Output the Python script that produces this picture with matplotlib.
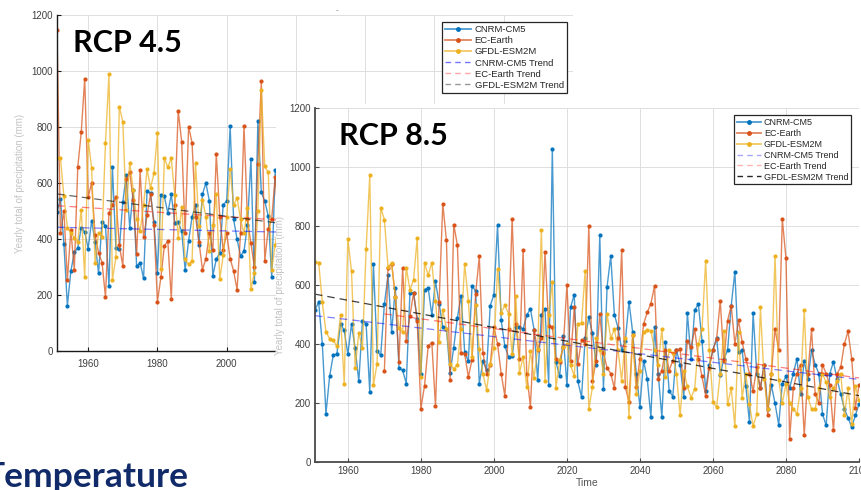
import numpy as np
import matplotlib
matplotlib.use('Agg')
import matplotlib.pyplot as plt
from matplotlib.lines import Line2D
from matplotlib.colors import to_rgba

plt.rcParams['font.family'] = ['Liberation Sans', 'DejaVu Sans']

# ---- data: RCP 4.5 (only 1951-2017 is visible, the rest sits under the 8.5 window)
years45 = np.arange(1951, 2018)
cnrm45 = [496, 543, 381, 162, 285, 352, 369, 440, 425, 366,
          465, 389, 278, 460, 448, 231, 657, 369, 363, 532,
          629, 440, 576, 302, 316, 259, 571, 564, 460, 280,
          558, 552, 493, 559, 458, 460, 428, 290, 393, 479,
          520, 380, 560, 600, 535, 269, 328, 351, 523, 535,
          803, 470, 399, 340, 357, 450, 686, 245, 822, 567,
          535, 482, 263, 647, 500, 420, 450]
ec45 = [1145, 422, 500, 254, 432, 290, 657, 781, 972, 550,
        600, 413, 351, 316, 193, 493, 523, 549, 377, 304,
        614, 638, 540, 345, 645, 407, 484, 560, 450, 176,
        263, 375, 393, 186, 520, 858, 748, 420, 801, 744,
        480, 390, 290, 330, 420, 360, 704, 480, 360, 420,
        330, 286, 219, 420, 804, 470, 384, 300, 668, 964,
        322, 437, 470, 623, 450, 400, 420]
gfdl45 = [688, 688, 552, 440, 422, 405, 390, 505, 263, 754,
          655, 316, 422, 408, 744, 988, 254, 334, 872, 819,
          503, 673, 576, 470, 428, 520, 649, 582, 635, 777,
          292, 688, 657, 688, 558, 405, 515, 328, 310, 322,
          673, 446, 540, 480, 357, 450, 560, 257, 342, 480,
          649, 520, 547, 470, 420, 511, 221, 280, 500, 933,
          659, 638, 290, 380, 450, 400, 420]
trend_years45 = [1951, 2100]
cnrm45_trend = [442, 402]
ec45_trend = [519, 400]
gfdl45_trend = [561, 318]

# ---- data: RCP 8.5
years85 = np.arange(1951, 2101)
years85_ec = np.arange(1970, 2101)
cnrm85 = [516, 542, 401, 164, 290, 362, 367, 469, 446, 365,
          467, 386, 273, 478, 469, 237, 672, 376, 362, 534,
          633, 441, 591, 319, 311, 266, 573, 573, 486, 297,
          584, 591, 497, 612, 537, 458, 452, 302, 388, 489,
          563, 373, 342, 596, 580, 266, 341, 313, 530, 567,
          802, 480, 393, 356, 358, 458, 458, 450, 498, 519,
          449, 277, 497, 520, 262, 1062, 339, 290, 426, 260,
          525, 567, 273, 220, 420, 490, 436, 330, 769, 248,
          594, 698, 500, 455, 380, 410, 544, 440, 300, 188,
          344, 282, 152, 456, 300, 152, 406, 242, 222, 380,
          330, 220, 504, 349, 515, 535, 411, 242, 330, 380,
          420, 296, 350, 378, 530, 645, 372, 380, 256, 135,
          505, 300, 250, 330, 180, 260, 199, 126, 265, 290,
          250, 300, 350, 230, 344, 280, 378, 330, 300, 163,
          124, 299, 340, 280, 230, 180, 150, 118, 158, 197]
ec85 = [308, 659, 672, 560, 339, 659, 410, 495, 573, 478,
        181, 259, 393, 405, 189, 542, 876, 751, 277, 805,
        736, 371, 367, 288, 347, 571, 697, 370, 300, 330,
        458, 401, 299, 224, 450, 825, 469, 350, 717, 300,
        187, 446, 380, 420, 712, 460, 458, 350, 340, 390,
        600, 344, 524, 333, 414, 400, 801, 276, 344, 501,
        370, 319, 300, 250, 420, 718, 254, 203, 430, 254,
        350, 468, 507, 537, 597, 282, 310, 380, 310, 344,
        380, 383, 250, 411, 389, 451, 350, 290, 225, 320,
        380, 417, 547, 344, 479, 530, 400, 480, 406, 350,
        300, 240, 321, 250, 330, 158, 300, 451, 380, 823,
        690, 78, 250, 300, 330, 90, 300, 451, 230, 200,
        330, 300, 260, 107, 300, 321, 400, 443, 350, 184,
        260]
gfdl85 = [678, 676, 542, 441, 418, 412, 392, 497, 266, 757,
          647, 320, 437, 388, 721, 972, 260, 333, 861, 822,
          660, 675, 559, 455, 441, 659, 584, 618, 760, 288,
          675, 633, 676, 546, 407, 514, 452, 333, 316, 330,
          452, 672, 546, 356, 533, 382, 297, 245, 331, 388,
          655, 506, 531, 503, 365, 563, 302, 356, 255, 375,
          286, 384, 788, 275, 499, 610, 252, 345, 390, 401,
          328, 291, 469, 470, 649, 180, 254, 420, 380, 300,
          501, 420, 450, 380, 276, 420, 152, 430, 231, 310,
          440, 447, 445, 380, 330, 450, 287, 380, 368, 300,
          158, 308, 256, 218, 248, 400, 450, 682, 380, 203,
          186, 300, 445, 195, 250, 121, 440, 218, 300, 195,
          121, 163, 524, 280, 180, 300, 699, 278, 200, 265,
          199, 180, 163, 250, 515, 220, 180, 180, 250, 300,
          270, 220, 250, 276, 300, 158, 250, 130, 256, 211]
cnrm85_trend_years = [1951, 2100]
cnrm85_trend = [496, 280]
ec85_trend_years = [1970, 2100]
ec85_trend = [502, 285]
gfdl85_trend_years = [1951, 2100]
gfdl85_trend = [569, 225]

labels = ['CNRM-CM5', 'EC-Earth', 'GFDL-ESM2M',
          'CNRM-CM5 Trend', 'EC-Earth Trend', 'GFDL-ESM2M Trend']
c_blue, c_red, c_yel = '#0072BD', '#D95319', '#EDB120'

W, H = 861, 490
fig = plt.figure(figsize=(W / 100, H / 100), dpi=100)


def box(x0, y0, x1, y1):
    # pixel box (top-left origin) -> figure fraction
    return [x0 / W, 1 - y1 / H, (x1 - x0) / W, (y1 - y0) / H]


def style(ax, spine_col, spine_w):
    ax.set_xlim(1951, 2100)
    ax.set_ylim(0, 1200)
    ax.set_xticks(range(1960, 2101, 20))
    ax.set_yticks(range(0, 1201, 200))
    ax.grid(True, color='#dedede', lw=0.7)
    ax.set_axisbelow(True)
    for s in ['top', 'right']:
        ax.spines[s].set_visible(False)
    for s in ['left', 'bottom']:
        ax.spines[s].set_color(spine_col)
        ax.spines[s].set_linewidth(spine_w)
    ax.tick_params(direction='in', length=3, labelsize=7, colors=spine_col,
                   labelcolor='#404040', pad=3)


def series(ax, x, y, c):
    ax.plot(x, y, color=to_rgba(c, 0.72), lw=1.0, marker='o', ms=2,
            mfc=c, mec=c)


def make_handles(trend_alphas):
    hs = [Line2D([0], [0], color=to_rgba(c, 0.7), lw=1.3, marker='o', ms=2.5,
                 mfc=c, mec=c) for c in (c_blue, c_red, c_yel)]
    for c, a in zip(('#0000ff', '#ff0000', '#000000'), trend_alphas):
        hs.append(Line2D([0], [0], color=c, alpha=a, lw=1.0, ls=(0, (4, 3))))
    return hs


# ---------------- left window: RCP 4.5 ----------------
ax1 = fig.add_axes(box(57, 15, 573, 351))
ax1.set_zorder(0)
style(ax1, '#1a1a1a', 1.0)
ax1.tick_params(axis='x', pad=6)
series(ax1, years45, cnrm45, c_blue)
series(ax1, years45, ec45, c_red)
series(ax1, years45, gfdl45, c_yel)
ax1.plot(trend_years45, cnrm45_trend, color='#0000ff', alpha=0.5, lw=0.9, ls=(0, (6, 4)))
ax1.plot(trend_years45, ec45_trend, color='#ff0000', alpha=0.5, lw=0.9, ls=(0, (6, 4)))
ax1.plot(trend_years45, gfdl45_trend, color='#000000', alpha=0.6, lw=0.9, ls=(0, (6, 4)))
ax1.set_ylabel('Yearly total of precipitation (mm)', fontsize=7, color='#c4c4c4')
ax1.yaxis.set_label_coords(-0.062, 0.5)
leg1 = ax1.legend(make_handles((0.55, 0.35, 0.4)), labels, loc='upper left',
                  bbox_to_anchor=(442 / W, 1 - 22 / H), bbox_transform=fig.transFigure,
                  borderaxespad=0, fontsize=6.8, fancybox=False, framealpha=1,
                  edgecolor='#262626', handlelength=2.7, handletextpad=0.4,
                  labelspacing=0.22, borderpad=0.35, numpoints=1)
leg1.get_frame().set_linewidth(0.9)
for t in leg1.get_texts():
    t.set_color('#262626')

# ---------------- white window of the second figure ----------------
cover = fig.add_axes(box(276, 104, 861, 490))
cover.set_zorder(1)
cover.set_facecolor('white')
cover.set_xticks([])
cover.set_yticks([])
for s in cover.spines.values():
    s.set_visible(False)

# ---------------- right window: RCP 8.5 ----------------
ax2 = fig.add_axes(box(315, 108, 859, 462))
ax2.set_zorder(2)
style(ax2, '#4a4a4a', 1.3)
series(ax2, years85, cnrm85, c_blue)
series(ax2, years85_ec, ec85, c_red)
series(ax2, years85, gfdl85, c_yel)
ax2.plot(cnrm85_trend_years, cnrm85_trend, color='#0000ff', alpha=0.5, lw=0.9, ls=(0, (6, 4)))
ax2.plot(ec85_trend_years, ec85_trend, color='#ff0000', alpha=0.5, lw=0.9, ls=(0, (6, 4)))
ax2.plot(gfdl85_trend_years, gfdl85_trend, color='#000000', alpha=0.75, lw=0.9, ls=(0, (6, 4)))
ax2.set_ylabel('Yearly total of precipitation (mm)', fontsize=7, color='#c4c4c4')
ax2.yaxis.set_label_coords(-0.055, 0.5)
ax2.set_xlabel('Time', fontsize=7.5, color='#555555', labelpad=1)
leg2 = ax2.legend(make_handles((0.35, 0.3, 0.85)), labels, loc='upper left',
                  bbox_to_anchor=(734 / W, 1 - 115 / H), bbox_transform=fig.transFigure,
                  borderaxespad=0, fontsize=6.5, fancybox=False, framealpha=1,
                  edgecolor='#262626', handlelength=2.7, handletextpad=0.3,
                  labelspacing=0.22, borderpad=0.3, numpoints=1)
leg2.get_frame().set_linewidth(0.9)
for t in leg2.get_texts():
    t.set_color('#262626')

# ---------------- overlay texts ----------------
fig.text(73 / W, 1 - 52 / H, 'RCP 4.5', fontsize=22, fontweight='bold',
         family='Lato', va='baseline', color='black')
fig.text(339 / W, 1 - 145 / H, 'RCP 8.5', fontsize=22, fontweight='bold',
         family='Lato', va='baseline', color='black', zorder=5)
fig.text(-16 / W, 1 - 487 / H, 'Temperature', fontsize=25.5, fontweight='bold',
         family='Lato', va='baseline', color='#112b6a')
fig.text(337 / W, 1 - 11 / H, '-', fontsize=6, color='#777777', ha='center', va='center')

fig.savefig('out.png', dpi=100)
